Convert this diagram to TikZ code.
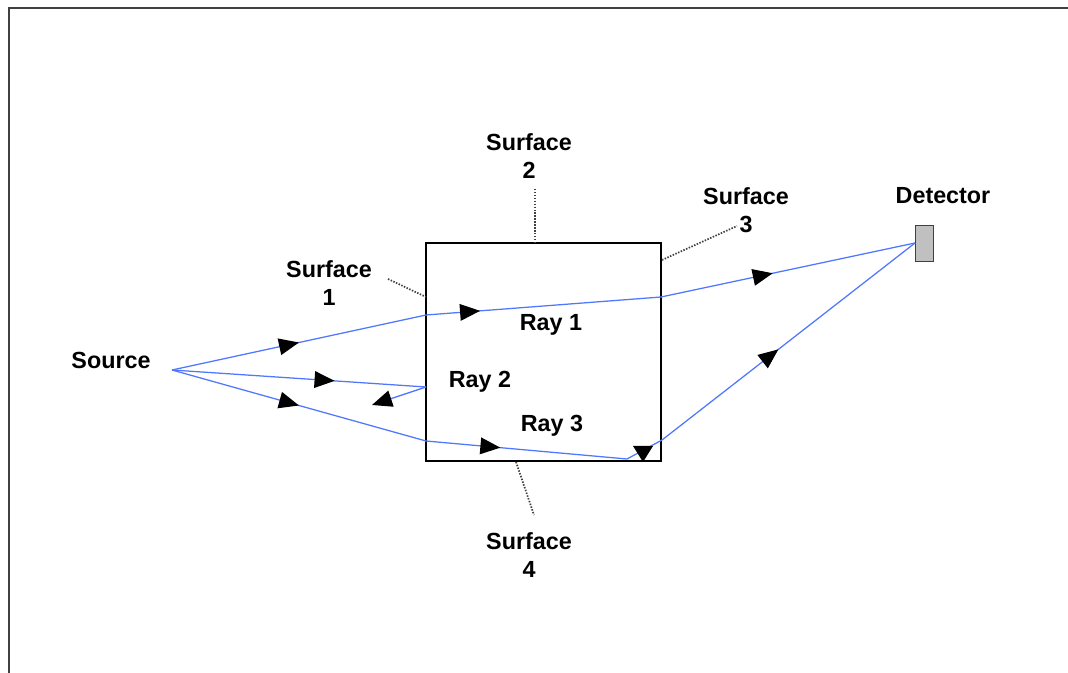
\documentclass[tikz,border=0pt]{standalone}
\usepackage{fontspec}
\setmainfont{Liberation Sans}
\usetikzlibrary{arrows.meta,decorations.markings}
\definecolor{raycol}{RGB}{80,120,255}
\definecolor{framecol}{RGB}{64,64,64}
\definecolor{detfill}{RGB}{192,192,192}
\tikzset{
  ray/.style={draw=raycol, line width=0.95pt},
  tipshape/.style={},
  midarrow/.style={postaction={decorate},
    decoration={markings, mark=at position #1 with {\arrow{Triangle[length=15pt,width=12.5pt,color=black]}}}},
  endarrow/.style={-{Triangle[length=15pt,width=12.5pt,color=black]}},
  surfline/.style={draw=framecol, line width=1.3pt, dash pattern=on 1.1pt off 1.1pt},
  lbl/.style={font=\fontsize{17.5}{21}\selectfont\bfseries, align=center, inner sep=0pt, text=black},
  boxstyle/.style={draw=black, line width=0.9pt}
}
\begin{document}
\begin{tikzpicture}[x=0.75pt, y=-0.75pt]
\useasboundingbox (0,0) rectangle (1068,673);
% frame
\draw[framecol, line width=1.5pt] (8.5,673) -- (8.5,8.5) -- (1068,8.5);

% box
\draw[boxstyle] (426,243) rectangle (661,461);
% detector
\node[draw=framecol, fill=detfill, line width=0.8pt, minimum width=13.5pt, minimum height=27pt, inner sep=0pt] (det) at (924.5,243.5) {};

% labels
\node[lbl] (src) at (111,360) {Source};
\node[lbl] (s1) at (329,283) {Surface\\1};
\node[lbl] (s2) at (529,156) {Surface\\2};
\node[lbl] (s3) at (746,210) {Surface\\3};
\node[lbl] (s4) at (529,555) {Surface\\4};
\node[lbl] (dlbl) at (943,196) {Detector};
\node[lbl] (r1) at (551,325) {Ray 1};
\node[lbl] (r2) at (480,382) {Ray 2};
\node[lbl] (r3) at (552,426) {Ray 3};

% key points
\coordinate (S) at (172,370);
\coordinate (D) at (915,243);
\coordinate (a1) at (426,315);
\coordinate (a2) at (661,297);
\coordinate (b1) at (426,387);
\coordinate (b2) at (372,405);
\coordinate (c1) at (426,441);
\coordinate (c2) at (627,459);
\coordinate (c3) at (662,440);

% surface pointers
\coordinate (p1a) at (388,279);
\coordinate (p1b) at (426,297);
\coordinate (p2a) at (535,189);
\coordinate (p2b) at (535,243);
\coordinate (p3a) at (662,260);
\coordinate (p3b) at (737,226);
\coordinate (p4a) at (516,462);
\coordinate (p4b) at (534,515);
\draw[surfline] (p1a) -- (p1b);
\draw[surfline] (p2a) -- (p2b);
\draw[surfline] (p3a) -- (p3b);
\draw[surfline] (p4a) -- (p4b);

% Ray 1
\draw[ray, midarrow=0.5] (S) -- (a1);
\draw[ray, midarrow=0.23] (a1) -- (a2);
\draw[ray, midarrow=0.44] (a2) -- (D);
% Ray 2
\draw[ray, midarrow=0.64] (S) -- (b1);
\draw[ray, endarrow] (b1) -- (b2);
% Ray 3
\draw[ray, midarrow=0.5] (S) -- (c1);
\draw[ray, midarrow=0.37] (c1) -- (c2);
\draw[ray] (c2) -- (c3);
\fill[black] (633,446) -- (653,446) -- (643,462) -- cycle;
\draw[ray, midarrow=0.46] (c3) -- (D);
\end{tikzpicture}
\end{document}
